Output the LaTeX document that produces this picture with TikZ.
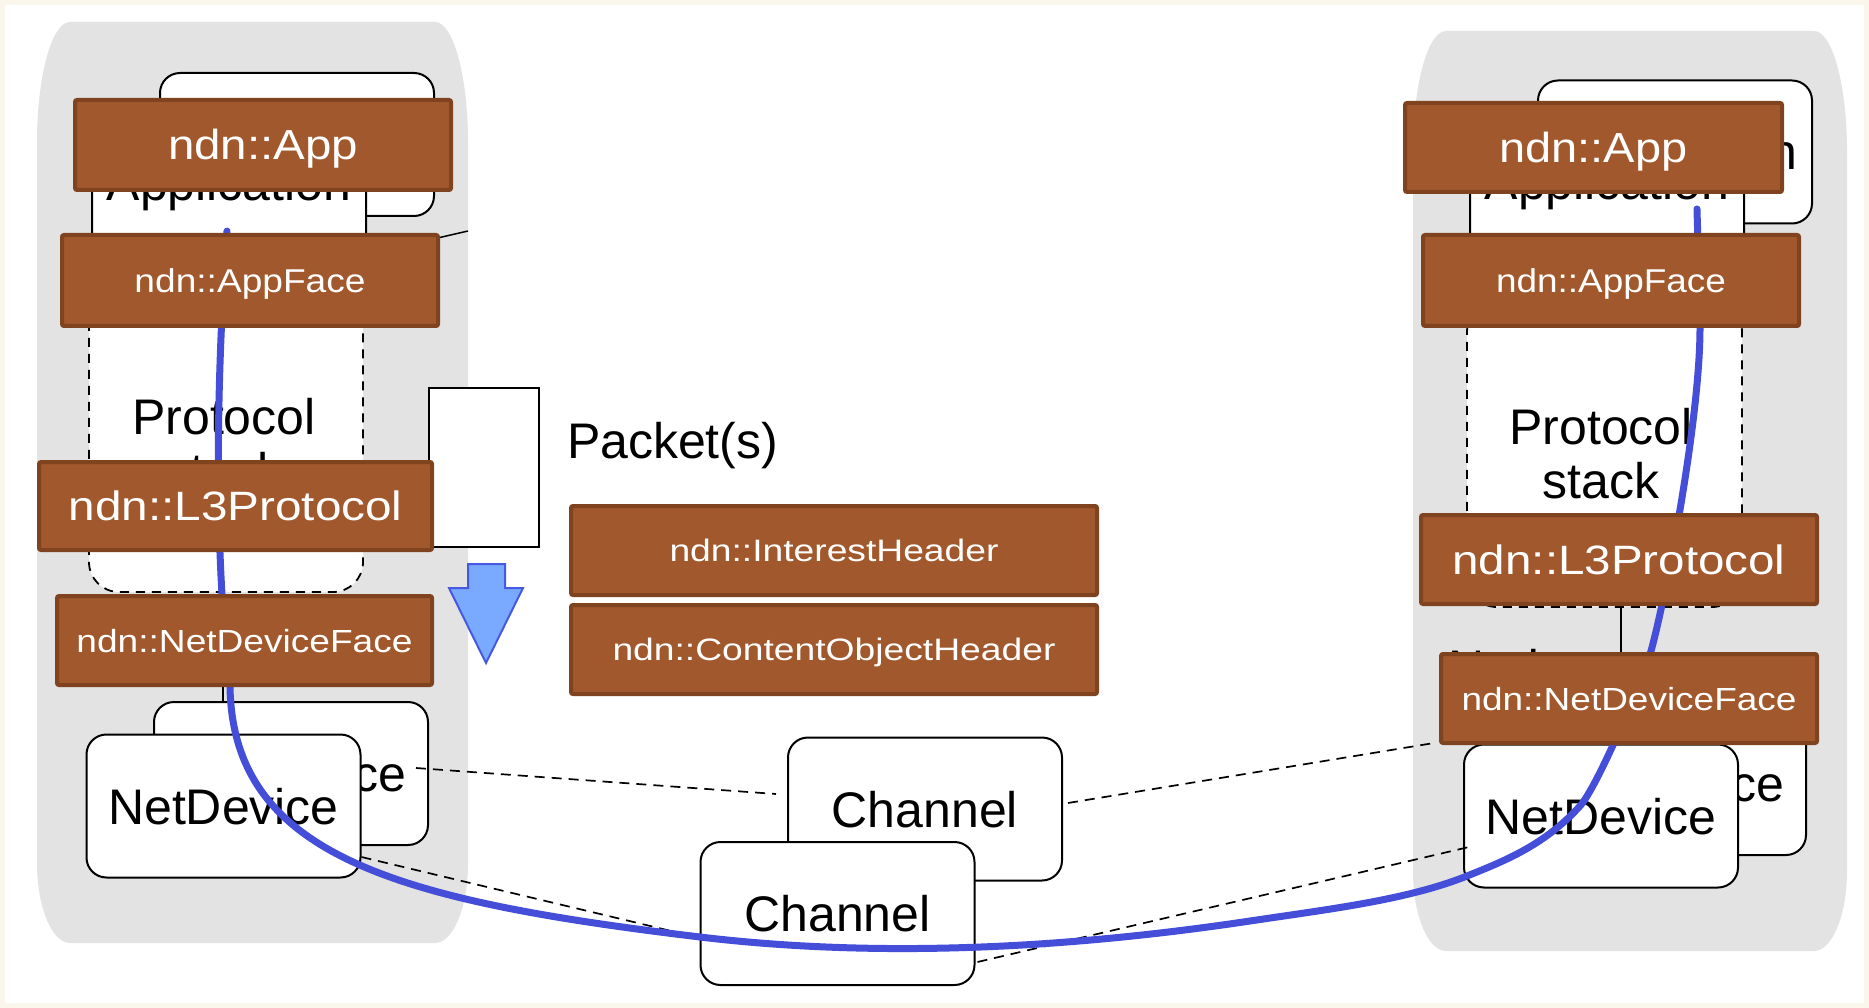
\documentclass[tikz,border=0pt]{standalone}
\usepackage{fontspec}
\setmainfont{Liberation Sans}
\usepackage{graphicx}
\definecolor{nodegray}{RGB}{227,227,227}
\definecolor{brownfill}{RGB}{161,88,44}
\definecolor{brownline}{RGB}{128,67,31}
\definecolor{flowblue}{RGB}{68,78,216}
\definecolor{arrowfill}{RGB}{122,170,255}
\definecolor{arrowline}{RGB}{70,90,225}
\definecolor{paperedge}{RGB}{251,246,236}
% stretch a label to a given width, keeping its height
\newcommand\fitw[2]{\resizebox{#1}{\height}{#2}}
\begin{document}
\begin{tikzpicture}[x=1pt,y=-1pt,
  every node/.style={inner sep=0pt,outer sep=0pt},
  bigtext/.style={font=\fontsize{50}{54}\selectfont},
  whitebox/.style={bigtext,draw=black,line width=2pt,fill=white,rounded corners=20pt,
    minimum width=274pt,minimum height=143pt,text height=36pt,text depth=0pt},
  stackbox/.style={draw=black,line width=1.8pt,dash pattern=on 9pt off 7pt,fill=white,rounded corners=30pt},
  brownbox/.style={draw=brownline,fill=brownfill,line width=4pt,rounded corners=2pt,text=white},
  thinline/.style={draw=black,line width=1.5pt},
  link/.style={draw=black,line width=1.7pt,dash pattern=on 10pt off 7pt},
  flow/.style={draw=flowblue,line width=7pt,line cap=round,line join=round},
]
\useasboundingbox (0,0) rectangle (1869,1008);
\fill[paperedge] (0,0) rectangle (1869,1008);
\fill[white] (5,5) rectangle (1864,1003);

% node containers
\fill[nodegray] (70,22) -- (435,22) .. controls (453.2,22) and (468,75.8) .. (468,142)
  -- (468,863) .. controls (468,907) and (453.2,943) .. (435,943)
  -- (70,943) .. controls (51.8,943) and (37,907) .. (37,863)
  -- (37,142) .. controls (37,75.8) and (51.8,22) .. (70,22) -- cycle;
\fill[nodegray] (1446,31) -- (1814,31) .. controls (1832.2,31) and (1847,84.8) .. (1847,151)
  -- (1847,871) .. controls (1847,915) and (1832.2,951) .. (1814,951)
  -- (1446,951) .. controls (1427.8,951) and (1413,915) .. (1413,871)
  -- (1413,151) .. controls (1413,84.8) and (1427.8,31) .. (1446,31) -- cycle;

% applications
\node[whitebox] (appBL) at (297,144.5) {Application};
\node[whitebox] (appFL) at (229,183) {Application};
\node[whitebox] (appBR) at (1675,152) {Application};
\node[whitebox] (appFR) at (1607,182) {Application};

% protocol stacks
\node[stackbox,minimum width=274pt,minimum height=295pt] (stkL) at (226,444.5) {};
\node[stackbox,minimum width=275pt,minimum height=305pt] (stkR) at (1604.5,454.5) {};
\node[bigtext,align=center,anchor=north] (stkLt) at (224,398) {Protocol\\stack};
\node[bigtext,align=center,anchor=north] (stkRt) at (1601,408) {Protocol\\stack};
\node[bigtext,anchor=base west] (nodeR) at (1448,685) {Node};

% net devices and channels
\node[whitebox] (ndBL) at (291,773.5) {NetDevice};
\node[whitebox] (ndFL) at (223.5,806) {NetDevice};
\node[whitebox] (ndBR) at (1669,783.5) {NetDevice};
\node[whitebox] (ndFR) at (1601,816) {NetDevice};
\node[whitebox] (chB) at (925,809) {Channel};
\node[whitebox] (chF) at (837.5,913.5) {Channel};

% packet
\node[draw=black,line width=2.5pt,fill=white,minimum width=110pt,minimum height=159pt] (pkt) at (484,467.5) {};
\node[bigtext,anchor=base west] (pktlbl) at (567,458) {Packet(s)};
\draw[fill=arrowfill,draw=arrowline,line width=2pt]
  (468,564) -- (505,564) -- (505,588) -- (523,588) -- (486,663) -- (449,588) -- (468,588) -- cycle;

% anchors of the class boxes, needed by the links drawn underneath them
\path (235.5,506) node[minimum width=393pt,minimum height=88pt] (l3Lpos) {};
\path (244.5,640.5) node[minimum width=375pt,minimum height=89pt] (ndfLpos) {};
\path (1619,559.5) node[minimum width=396pt,minimum height=89pt] (l3Rpos) {};
\path (1629,698.5) node[minimum width=376pt,minimum height=89pt] (ndfRpos) {};

% thin links
\coordinate (appLinkEnd) at (468,231);
\draw[thinline] (appFL.south east) -- (appLinkEnd);
\draw[thinline] ([xshift=-21.5pt]ndfLpos.south) -- ([xshift=-68pt]ndBL.north);
\draw[thinline] ([xshift=2pt]l3Rpos.south) -- ([xshift=-8pt]ndfRpos.north);

% device to channel links
\draw[link] ([shift={(-12,-5.5)}]ndBL.east) -- ([shift={(-12,-15)}]chB.west);
\draw[link] ([shift={(1,-20.5)}]ndFL.south east) -- ([shift={(0,24.5)}]chF.west);
\draw[link] ([shift={(6,-6)}]chB.east) -- ([shift={(-7,0)}]ndfRpos.south west);
\draw[link] ([shift={(3,48.5)}]chF.east) -- ([shift={(5,31)}]ndFR.west);

% packet flow from one application down through the channel and up to the other
\coordinate (flowStart) at (227,231);
\coordinate (flowEnd) at (1697,209);
\draw[flow] (flowStart) .. controls (215,400) and (215,560) .. (230,687)
  .. controls (233,857) and (400,901) .. (700,937)
  .. controls (880,958.6) and (1070,948) .. (1250,921)
  .. controls (1330,909) and (1407,900) .. (1467,876)
  .. controls (1507,860) and (1545,844.5) .. (1580,806)
  .. controls (1598,786) and (1644,676) .. (1651,651)
  .. controls (1665,601) and (1700,420) .. (1700,328)
  .. controls (1700,290) and (1698,250) .. (flowEnd);

% ndnSIM classes
\node[brownbox,minimum width=376pt,minimum height=90pt,font=\fontsize{42}{46}\selectfont,text height=30pt,text depth=0pt]
  (appL) at (263,145) {\fitw{190pt}{ndn::App}};
\node[brownbox,minimum width=377pt,minimum height=89pt,font=\fontsize{42}{46}\selectfont,text height=30pt,text depth=0pt]
  (appR) at (1593.5,147.5) {\fitw{188pt}{ndn::App}};
\node[brownbox,minimum width=376pt,minimum height=91pt,font=\fontsize{33}{37}\selectfont,text height=23.6pt,text depth=0pt]
  (faceL) at (250,280.5) {\fitw{231pt}{ndn::AppFace}};
\node[brownbox,minimum width=376pt,minimum height=91pt,font=\fontsize{33}{37}\selectfont,text height=23.6pt,text depth=0pt]
  (faceR) at (1611,280.5) {\fitw{230pt}{ndn::AppFace}};
\node[brownbox,minimum width=393pt,minimum height=88pt,font=\fontsize{41}{45}\selectfont,text height=29.4pt,text depth=0pt]
  (l3L) at (235.5,506) {\fitw{334pt}{ndn::L3Protocol}};
\node[brownbox,minimum width=396pt,minimum height=89pt,font=\fontsize{41}{45}\selectfont,text height=29.4pt,text depth=0pt]
  (l3R) at (1619,559.5) {\fitw{333pt}{ndn::L3Protocol}};
\node[brownbox,minimum width=375pt,minimum height=89pt,font=\fontsize{32}{36}\selectfont,text height=23pt,text depth=0pt]
  (ndfL) at (244.5,640.5) {\fitw{336pt}{ndn::NetDeviceFace}};
\node[brownbox,minimum width=376pt,minimum height=89pt,font=\fontsize{32}{36}\selectfont,text height=23pt,text depth=0pt]
  (ndfR) at (1629,698.5) {\fitw{335pt}{ndn::NetDeviceFace}};
\node[brownbox,minimum width=526pt,minimum height=89pt,font=\fontsize{31}{35}\selectfont,text height=22.2pt,text depth=0pt]
  (intH) at (834,550.5) {\fitw{329pt}{ndn::InterestHeader}};
\node[brownbox,minimum width=526pt,minimum height=89pt,font=\fontsize{31}{35}\selectfont,text height=22.2pt,text depth=0pt]
  (coH) at (834,649.5) {\fitw{443pt}{ndn::ContentObjectHeader}};
\end{tikzpicture}
\end{document}
